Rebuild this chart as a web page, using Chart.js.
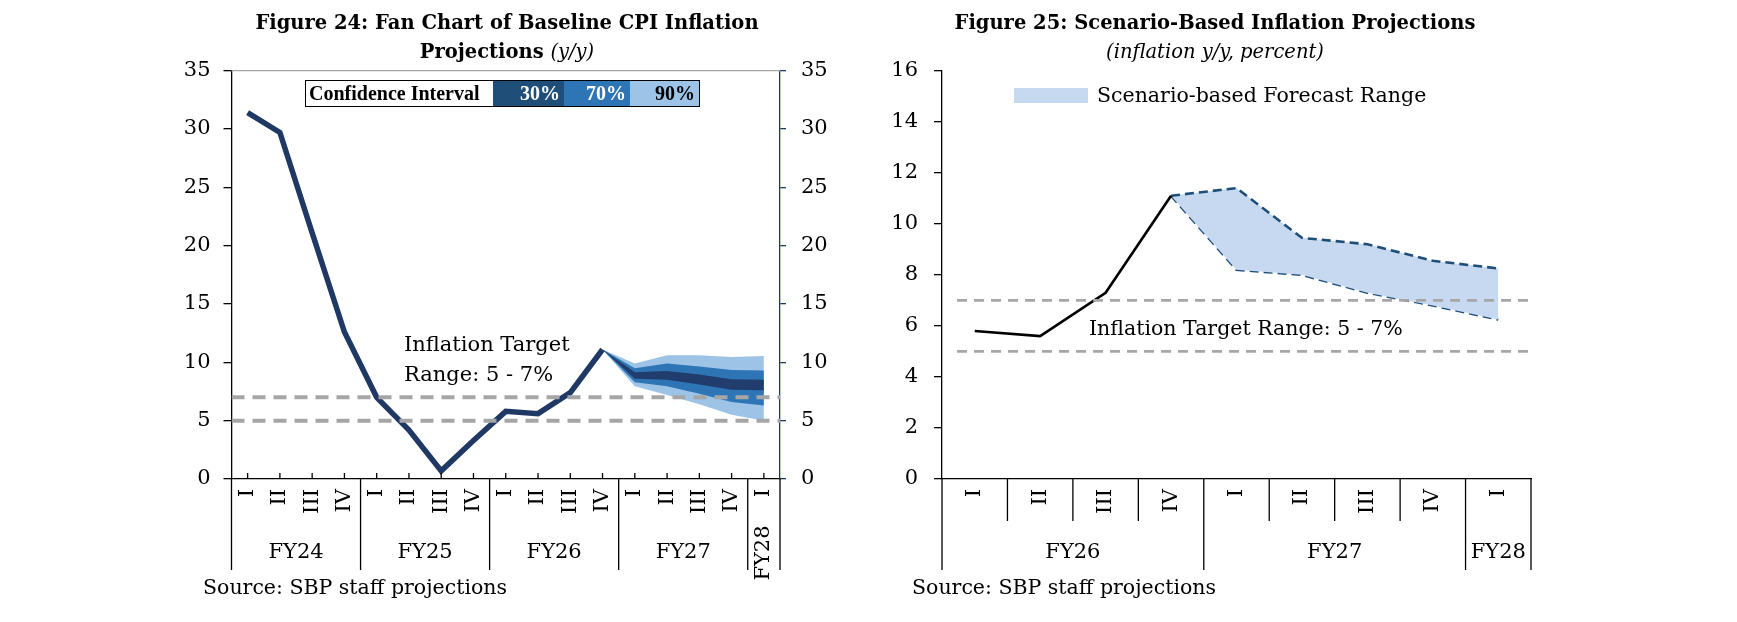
<!DOCTYPE html>
<html>
<head>
<meta charset="utf-8">
<title>Inflation projections</title>
<script src="https://cdn.jsdelivr.net/npm/chart.js@4.4.1/dist/chart.umd.min.js"></script>
<style>
  html, body { margin: 0; padding: 0; background: #fff; }
  body { width: 1737px; height: 622px; position: relative; overflow: hidden;
         font-family: "DejaVu Serif", serif; color: #000; }
  .abs { position: absolute; white-space: nowrap; }
  .title { font-weight: bold; font-size: 19.5px; line-height: 29px; text-align: center; width: 760px; }
  .title i { font-weight: normal; }
  .txt { font-size: 20.5px; line-height: 21px; }
  .note { font-size: 21px; line-height: 30px; }
  #ci { left: 305px; top: 80px; width: 395px; height: 27px; border: 1px solid #000; box-sizing: border-box;
        display: flex; font-family: "Liberation Serif", serif; font-weight: bold; font-size: 20px; }
  #ci div { height: 100%; line-height: 25px; box-sizing: border-box; }
  #ci .lab { width: 187px; padding-left: 3px; }
  #ci .sw { text-align: right; padding-right: 4px; }
  .wrap { position: absolute; top: 0; height: 622px; }
</style>
</head>
<body>
<div class="wrap" style="left:0;width:870px"><canvas id="fanChart" width="870" height="622"></canvas></div>
<div class="wrap" style="left:870px;width:867px"><canvas id="scenarioChart" width="867" height="622"></canvas></div>

<div class="abs title" style="left:127px;top:7.6px">Figure 24: Fan Chart of Baseline CPI Inflation<br>Projections <i>(y/y)</i></div>
<div class="abs title" style="left:835px;top:7.6px">Figure 25: Scenario-Based Inflation Projections<br><i>(inflation y/y, percent)</i></div>

<div class="abs" id="ci">
  <div class="lab">Confidence Interval</div>
  <div class="sw" style="width:71px;background:#1F4E79;color:#fff">30%</div>
  <div class="sw" style="width:66px;background:#2E75B6;color:#fff">70%</div>
  <div class="sw" style="width:69px;background:#9DC3E6;color:#000">90%</div>
</div>

<div class="abs" style="left:1014px;top:88px;width:74px;height:15px;background:#C6D9F1"></div>
<div class="abs txt" style="left:1097px;top:85px">Scenario-based Forecast Range</div>

<div class="abs note" style="left:404px;top:329px">Inflation Target<br>Range: 5 - 7%</div>
<div class="abs txt" style="left:1089px;top:318px">Inflation Target Range: 5 - 7%</div>

<div class="abs txt" style="left:203px;top:577px">Source: SBP staff projections</div>
<div class="abs txt" style="left:912px;top:577px">Source: SBP staff projections</div>

<script>
// ---------- Figure 24 data ----------
const quarterLabels = ['I', 'II', 'III', 'IV', 'I', 'II', 'III', 'IV', 'I', 'II', 'III', 'IV', 'I', 'II', 'III', 'IV', 'I'];
const fiscalYears = ['FY24', 'FY25', 'FY26', 'FY27', 'FY28'];
const quartersPerYear = [4, 4, 4, 4, 1];
const cpiBaseline = [31.4, 29.7, 21.1, 12.6, 7.0, 4.2, 0.7, 3.3, 5.8, 5.6, 7.4, 11.1, null, null, null, null, null];
const ci30Upper = [null, null, null, null, null, null, null, null, null, null, null, 11.1, 9.15, 9.25, 8.95, 8.55, 8.5];
const ci30Lower = [null, null, null, null, null, null, null, null, null, null, null, 11.1, 8.6, 8.5, 8.1, 7.65, 7.6];
const ci70Upper = [null, null, null, null, null, null, null, null, null, null, null, 11.1, 9.5, 9.9, 9.65, 9.35, 9.3];
const ci70Lower = [null, null, null, null, null, null, null, null, null, null, null, 11.1, 8.3, 7.95, 7.3, 6.6, 6.3];
const ci90Upper = [null, null, null, null, null, null, null, null, null, null, null, 11.1, 9.9, 10.6, 10.6, 10.45, 10.55];
const ci90Lower = [null, null, null, null, null, null, null, null, null, null, null, 11.1, 7.95, 7.2, 6.4, 5.5, 5.0];
const fanAxisMax = 35;
const fanAxisStep = 5;
const fanTargetSpan = [0, 17];

// ---------- Figure 25 data ----------
const scenarioQuarters = ['I', 'II', 'III', 'IV', 'I', 'II', 'III', 'IV', 'I'];
const scenarioYears = ['FY26', 'FY27', 'FY28'];
const scenarioQuartersPerYear = [4, 4, 1];
const cpiHistory = [5.8, 5.6, 7.3, 11.1, null, null, null, null, null];
const scenarioUpper = [null, null, null, 11.1, 11.4, 9.45, 9.2, 8.55, 8.25];
const scenarioLower = [null, null, null, 11.1, 8.2, 8.0, 7.3, 6.8, 6.25];
const scenarioAxisMax = 16;
const scenarioAxisStep = 2;
const scenarioTargetSpan = [0.23, 8.96];

const targetLow = 5;
const targetHigh = 7;

Chart.defaults.font.family = '"DejaVu Serif", serif';
Chart.defaults.font.size = 21;
Chart.defaults.color = '#000';

// draws the two-level category axis (quarters / fiscal years) below the plot
const yearAxis = {
  id: 'yearAxis',
  afterDraw(chart, args, o) {
    const ctx = chart.ctx, area = chart.chartArea, xs = chart.scales.x;
    const n = xs.getLabels().length;
    const step = xs.getPixelForValue(1) - xs.getPixelForValue(0);
    const edge = i => xs.getPixelForValue(i) - step / 2;
    const base = area.bottom;
    ctx.save();
    if (o.topBorder) {
      ctx.strokeStyle = '#A6A6A6';
      ctx.lineWidth = 1.3;
      ctx.beginPath();
      ctx.moveTo(area.left, area.top);
      ctx.lineTo(area.right, area.top);
      ctx.stroke();
    }
    ctx.strokeStyle = '#000';
    ctx.lineWidth = 1.3;
    ctx.beginPath();
    if (o.centreTicks) {
      for (let i = 0; i < n; i++) {
        const px = xs.getPixelForValue(i);
        ctx.moveTo(px, base);
        ctx.lineTo(px, base - o.centreTicks);
      }
    }
    const bounds = [0];
    o.sizes.forEach(s => bounds.push(bounds[bounds.length - 1] + s));
    if (o.innerDrop) {
      for (let i = 1; i < n; i++) {
        if (bounds.includes(i)) continue;
        ctx.moveTo(edge(i), base);
        ctx.lineTo(edge(i), base + o.innerDrop);
      }
    }
    bounds.forEach(b => {
      ctx.moveTo(edge(b), base);
      ctx.lineTo(edge(b), base + o.groupDrop);
    });
    ctx.stroke();

    ctx.fillStyle = '#000';
    ctx.font = '21px "DejaVu Serif"';
    ctx.textAlign = 'center';
    ctx.textBaseline = 'middle';
    o.names.forEach((name, k) => {
      const x0 = edge(bounds[k]), x1 = edge(bounds[k + 1]);
      const cx = (x0 + x1) / 2, cy = base + o.labelOffset;
      if (ctx.measureText(name).width > x1 - x0 - 4) {
        ctx.save();
        ctx.translate(cx, cy);
        ctx.rotate(-Math.PI / 2);
        ctx.fillText(name, 0, 0);
        ctx.restore();
      } else {
        ctx.fillText(name, cx, cy);
      }
    });
    ctx.restore();
  }
};

function targetLine(value, span) {
  return {
    data: [{ x: span[0], y: value }, { x: span[1], y: value }],
    xAxisID: 'xt',
    borderColor: '#A6A6A6',
    borderDash: [13, 8],
    borderWidth: 4,
    pointRadius: 0
  };
}

function band(values, colour, fillTo) {
  return {
    data: values,
    borderWidth: 0,
    borderColor: colour,
    backgroundColor: colour,
    pointRadius: 0,
    fill: fillTo === undefined ? false : fillTo
  };
}

function quarterAxis() {
  return {
    type: 'category',
    offset: true,
    grid: { display: false, drawTicks: false },
    border: { display: true, color: '#000', width: 1.3 },
    ticks: { autoSkip: false, minRotation: 90, maxRotation: 90, padding: 10, font: { size: 21 } },
    afterFit(s) { s.height = 622 - 479; }
  };
}

// ---------- Figure 24 ----------
new Chart(document.getElementById('fanChart'), {
  type: 'line',
  data: {
    labels: quarterLabels,
    datasets: [
      targetLine(targetHigh, fanTargetSpan),
      targetLine(targetLow, fanTargetSpan),
      {
        data: cpiBaseline,
        borderColor: '#1F3864',
        borderWidth: 5.5,
        borderJoinStyle: 'miter',
        pointRadius: 0
      },
      band(ci30Upper, '#213D6D', 4),
      band(ci30Lower, '#213D6D'),
      band(ci70Upper, '#2E75B6', 6),
      band(ci70Lower, '#2E75B6'),
      band(ci90Upper, '#9DC3E6', 8),
      band(ci90Lower, '#9DC3E6')
    ]
  },
  options: {
    responsive: false,
    animation: false,
    events: [],
    layout: { padding: { top: 70.7, left: 0, right: 0, bottom: 0 } },
    plugins: {
      legend: { display: false },
      tooltip: { enabled: false },
      yearAxis: { names: fiscalYears, sizes: quartersPerYear, topBorder: true, centreTicks: 6, groupDrop: 91, labelOffset: 74 }
    },
    scales: {
      x: quarterAxis(),
      xt: { type: 'linear', display: false, min: 0, max: quarterLabels.length },
      y: {
        position: 'left',
        min: 0, max: fanAxisMax,
        ticks: { stepSize: fanAxisStep, padding: 13 },
        grid: { drawOnChartArea: false, tickLength: 8, color: '#000', lineWidth: 1.3 },
        border: { color: '#000', width: 1.3 },
        afterFit(s) { s.width = 231.5; }
      },
      y2: {
        position: 'right',
        min: 0, max: fanAxisMax,
        ticks: { stepSize: fanAxisStep, padding: 15 },
        grid: { drawOnChartArea: false, tickLength: 6, color: '#1F3864', lineWidth: 1.3 },
        border: { color: '#1F3864', width: 1.3 },
        afterFit(s) { s.width = 870 - 780; }
      }
    }
  },
  plugins: [yearAxis]
});

// ---------- Figure 25 ----------
new Chart(document.getElementById('scenarioChart'), {
  type: 'line',
  data: {
    labels: scenarioQuarters,
    datasets: [
      Object.assign(targetLine(targetHigh, scenarioTargetSpan), { borderWidth: 2.6, borderDash: [10, 7] }),
      Object.assign(targetLine(targetLow, scenarioTargetSpan), { borderWidth: 2.6, borderDash: [10, 7] }),
      {
        data: cpiHistory,
        borderColor: '#000',
        borderWidth: 2.6,
        pointRadius: 0
      },
      {
        data: scenarioUpper,
        borderColor: '#1F4E79',
        borderWidth: 2.6,
        borderDash: [9, 5],
        backgroundColor: '#C6D9F1',
        pointRadius: 0,
        fill: 4
      },
      {
        data: scenarioLower,
        borderColor: '#1F4E79',
        borderWidth: 2.6,
        borderDash: [9, 5],
        pointRadius: 0
      }
    ]
  },
  options: {
    responsive: false,
    animation: false,
    events: [],
    layout: { padding: { top: 70.7, left: 0, right: 206, bottom: 0 } },
    plugins: {
      legend: { display: false },
      tooltip: { enabled: false },
      yearAxis: { names: scenarioYears, sizes: scenarioQuartersPerYear, innerDrop: 42, groupDrop: 91, labelOffset: 74 }
    },
    scales: {
      x: quarterAxis(),
      xt: { type: 'linear', display: false, min: 0, max: scenarioQuarters.length },
      y: {
        position: 'left',
        min: 0, max: scenarioAxisMax,
        ticks: { stepSize: scenarioAxisStep, padding: 16 },
        grid: { drawOnChartArea: false, tickLength: 8, color: '#000', lineWidth: 1.3 },
        border: { color: '#000', width: 1.3 },
        afterFit(s) { s.width = 72; }
      }
    }
  },
  plugins: [yearAxis]
});
</script>
</body>
</html>
